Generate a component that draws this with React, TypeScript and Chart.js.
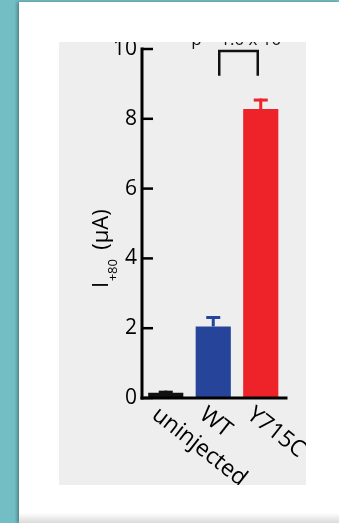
import React, { useEffect, useRef } from "react";
import { Chart, registerables } from "chart.js";

Chart.register(...registerables);

const categories = ["uninjected", "WT", "Y715C"];
const currents = [0.15, 2.05, 8.28];
const errors = [0.06, 0.3, 0.3];
const barColors = ["#111111", "#27449b", "#ee2229"];
const yTicks = [0, 2, 4, 6, 8, 10];
const yMax = 10;
const pText = "p = 1.0 x 10";
const bracketPair = [1, 2];
const bracketTop = 9.94;
const bracketBottom = 9.23;

const FONT = "'Open Sans', 'DejaVu Sans', sans-serif";

const overlayPlugin = {
  id: "overlay",
  afterDatasetsDraw(chart: any) {
    const ctx = chart.ctx as CanvasRenderingContext2D;
    const x = chart.scales.x;
    const y = chart.scales.y;
    const area = chart.chartArea;
    const meta = chart.getDatasetMeta(0);
    ctx.save();

    // error bars
    meta.data.forEach((bar: any, i: number) => {
      const cx = bar.x;
      const top = y.getPixelForValue(currents[i]);
      const etop = y.getPixelForValue(currents[i] + errors[i]);
      ctx.strokeStyle = barColors[i];
      ctx.lineWidth = 3;
      ctx.beginPath();
      ctx.moveTo(cx, top);
      ctx.lineTo(cx, etop);
      ctx.stroke();
      ctx.beginPath();
      ctx.moveTo(cx - 7, etop + 1.5);
      ctx.lineTo(cx + 7, etop + 1.5);
      ctx.stroke();
    });

    // axes
    const y0 = y.getPixelForValue(0);
    const yTop = y.getPixelForValue(yMax);
    ctx.strokeStyle = "#000";
    ctx.lineWidth = 3;
    ctx.lineCap = "butt";
    ctx.beginPath();
    ctx.moveTo(area.left, y0 + 1.5);
    ctx.lineTo(area.left, yTop - 1.5);
    ctx.stroke();
    ctx.beginPath();
    ctx.moveTo(area.left - 1.5, y0);
    ctx.lineTo(area.right + 3, y0);
    ctx.stroke();
    ctx.lineWidth = 2.5;
    yTicks.forEach((t) => {
      const py = y.getPixelForValue(t);
      ctx.beginPath();
      ctx.moveTo(area.left, py);
      ctx.lineTo(area.left + 11, py);
      ctx.stroke();
    });

    // tick labels
    ctx.fillStyle = "#000";
    ctx.font = `21px ${FONT}`;
    ctx.textAlign = "right";
    ctx.textBaseline = "middle";
    yTicks.forEach((t) => {
      ctx.fillText(String(t), area.left - 5, y.getPixelForValue(t));
    });

    // x labels rotated
    ctx.font = `23px ${FONT}`;
    ctx.textAlign = "left";
    ctx.textBaseline = "middle";
    categories.forEach((c, i) => {
      const px = x.getPixelForValue(i);
      ctx.save();
      ctx.translate(px - 11, y0 + 14);
      ctx.rotate((38 * Math.PI) / 180);
      ctx.fillText(c, 0, 0);
      ctx.restore();
    });

    // y title
    ctx.save();
    ctx.translate(area.left - 34, y0 - 110);
    ctx.rotate(-Math.PI / 2);
    ctx.textAlign = "left";
    ctx.textBaseline = "alphabetic";
    ctx.font = `22px ${FONT}`;
    ctx.fillText("I", 0, 0);
    const w1 = ctx.measureText("I").width;
    ctx.font = `13px ${FONT}`;
    ctx.fillText("+80", w1 + 0.5, 9);
    const w2 = ctx.measureText("+80").width;
    ctx.font = `22px ${FONT}`;
    ctx.fillText(" (µA)", w1 + w2 + 4, 0);
    ctx.restore();

    // significance bracket
    const bl = x.getPixelForValue(bracketPair[0]) + 6;
    const br = x.getPixelForValue(bracketPair[1]) - 3;
    const bt = y.getPixelForValue(bracketTop);
    const bb = y.getPixelForValue(bracketBottom);
    ctx.strokeStyle = "#111";
    ctx.lineWidth = 2.5;
    ctx.lineJoin = "miter";
    ctx.beginPath();
    ctx.moveTo(bl, bb);
    ctx.lineTo(bl, bt);
    ctx.lineTo(br, bt);
    ctx.lineTo(br, bb);
    ctx.stroke();

    ctx.fillStyle = "#111";
    ctx.font = `17px ${FONT}`;
    ctx.textAlign = "left";
    ctx.textBaseline = "alphabetic";
    ctx.fillText(pText, bl - 28, 3);

    ctx.restore();
  },
};

export default function App() {
  const ref = useRef<HTMLCanvasElement | null>(null);
  useEffect(() => {
    if (!ref.current) return;
    const chart = new Chart(ref.current, {
      type: "bar",
      data: {
        labels: categories,
        datasets: [
          {
            data: currents,
            backgroundColor: barColors,
            borderWidth: 0,
            barPercentage: 0.74,
            categoryPercentage: 1,
          },
        ],
      },
      options: {
        responsive: false,
        animation: false,
        devicePixelRatio: 1,
        layout: { padding: { left: 83, top: 7, right: 21.5, bottom: 87 } },
        scales: {
          x: { display: false, offset: true },
          y: { display: false, min: 0, max: yMax },
        },
        plugins: { legend: { display: false }, tooltip: { enabled: false } },
      },
      plugins: [overlayPlugin],
    });
    return () => chart.destroy();
  }, []);

  return (
    <div style={{ position: "fixed", inset: 0, background: "#72bec4", overflow: "hidden" }}>
      <div
        style={{
          position: "absolute",
          left: 19,
          top: 2,
          right: 0,
          bottom: 0,
          background: "linear-gradient(to bottom, #ffffff 0, #ffffff calc(100% - 10px), #dadada 100%)",
          boxShadow: "-2px 0 3px rgba(0,0,0,0.3)",
        }}
      />
      <div style={{ position: "absolute", left: 59, top: 42, width: 247, height: 443, background: "#eeeeee" }}>
        <canvas ref={ref} width={247} height={443} style={{ display: "block", width: 247, height: 443 }} />
      </div>
    </div>
  );
}
